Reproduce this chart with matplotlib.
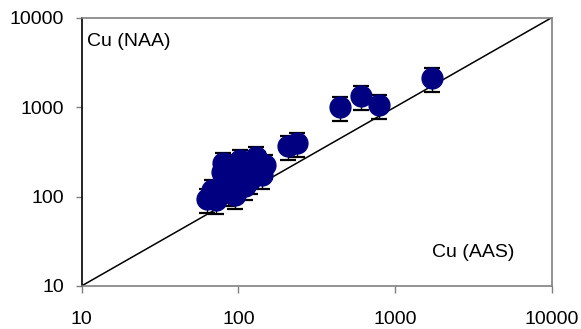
import numpy as np
import matplotlib
matplotlib.use('Agg')
import matplotlib.pyplot as plt
from matplotlib.ticker import FixedLocator, FixedFormatter, NullLocator

plt.rcParams['font.family'] = ['Liberation Sans', 'DejaVu Sans']

# Cu by AAS (x) vs Cu by NAA (y)
cu_aas = [63, 68, 77, 72, 79, 88, 102, 95, 86, 119, 134, 148, 142, 119, 111,
          80, 130, 90, 110,
          208, 236, 445, 605, 792, 1718]
cu_naa = [94, 119, 135, 91, 188, 225, 256, 104, 112, 225, 244, 225, 174, 153, 198,
          238, 277, 160, 130,
          368, 398, 1005, 1334, 1058, 2123]
rel_err = 0.3

ticks = [10, 100, 1000, 10000]
tick_labels = ['10', '100', '1000', '10000']

x = np.array(cu_aas)
y = np.array(cu_naa)

fig = plt.figure(figsize=(5.81, 3.29), dpi=100)
ax = fig.add_axes([0.1403, 0.1307, 0.8097, 0.8161])

ax.plot([10, 10000], [10, 10000], color='black', lw=1.1, zorder=1)
ax.errorbar(x, y, yerr=rel_err * y, fmt='o', color='#000080', ms=15,
            ecolor='black', elinewidth=1, capsize=6, capthick=1.6, zorder=2)

ax.set_xscale('log')
ax.set_yscale('log')
ax.set_xlim(10, 10000)
ax.set_ylim(10, 10000)

for axis in (ax.xaxis, ax.yaxis):
    axis.set_major_locator(FixedLocator(ticks))
    axis.set_major_formatter(FixedFormatter(tick_labels))
    axis.set_minor_locator(NullLocator())

ax.tick_params(axis='x', length=5, width=1, color='#808080', pad=13, labelsize=14)
ax.tick_params(axis='y', length=4.5, width=1, color='#808080', pad=8, labelsize=14)

for s in ['top', 'right', 'bottom']:
    ax.spines[s].set_color('#808080')
    ax.spines[s].set_linewidth(1.2)
ax.spines['left'].set_color('black')
ax.spines['left'].set_linewidth(1.2)

ax.text(0.012, 0.912, 'Cu (NAA)', transform=ax.transAxes, fontsize=14,
        ha='left', va='center')
ax.text(0.921, 0.123, 'Cu (AAS)', transform=ax.transAxes, fontsize=14,
        ha='right', va='center')

fig.savefig('out.png', dpi=100)
